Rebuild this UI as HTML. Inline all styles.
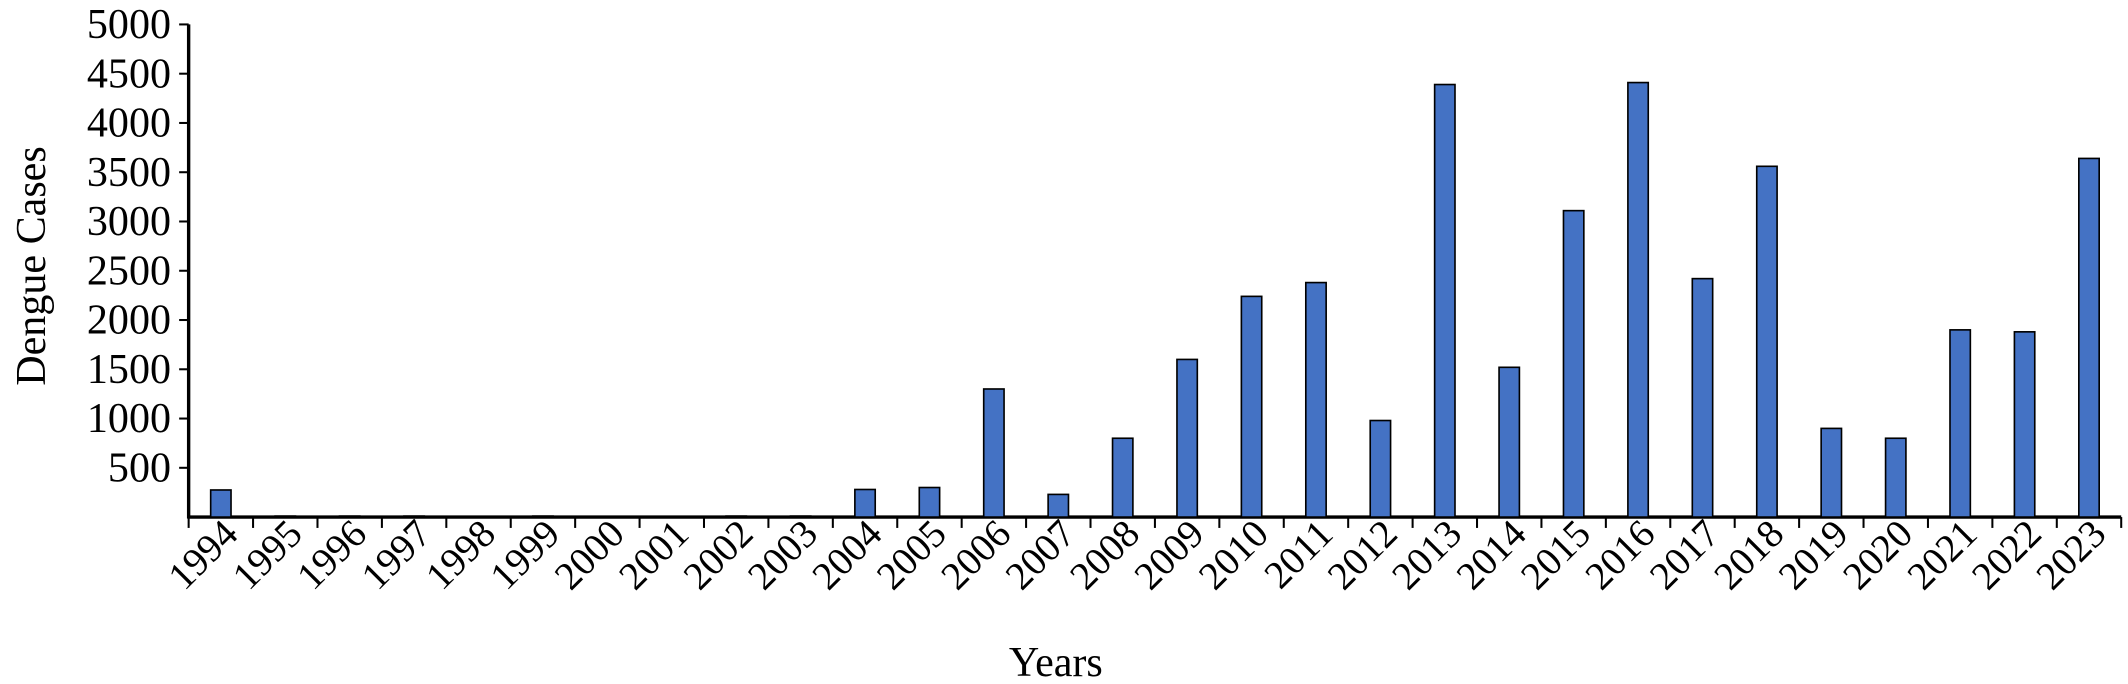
<!DOCTYPE html>
<html><head><meta charset="utf-8"><style>
html,body{margin:0;padding:0;background:#fff;width:2128px;height:684px;overflow:hidden}
svg{display:block}
text{font-family:"Liberation Serif",serif;fill:#000}
</style></head><body>
<svg id="chart" width="2128" height="684" viewBox="0 0 1568 504" xmlns="http://www.w3.org/2000/svg">
<g id="axes"></g><g id="bars"></g>
<text x="0" y="0" font-size="31" text-anchor="middle" transform="translate(33,196) rotate(-90)">Dengue Cases</text>
<text x="778" y="498" font-size="31" text-anchor="middle">Years</text>
</svg>
<script>
const years=["1994","1995","1996","1997","1998","1999","2000","2001","2002","2003","2004","2005","2006","2007","2008","2009","2010","2011","2012","2013","2014","2015","2016","2017","2018","2019","2020","2021","2022","2023"];
const cases=[275,10,10,10,0,10,0,0,10,10,280,300,1300,230,800,1600,2240,2380,980,4390,1520,3110,4410,2420,3560,900,800,1900,1880,3640];
const yTicks=[500,1000,1500,2000,2500,3000,3500,4000,4500,5000];
const NS="http://www.w3.org/2000/svg";
const x0=139,x1=1563,yTop=18,yBase=381,yMax=5000;
const bw=(x1-x0)/years.length;
function y(v){return yBase-(v/yMax)*(yBase-yTop);}
function xc(i){return x0+bw*(i+0.5);}
function mk(t,a,p){const e=document.createElementNS(NS,t);for(const k in a)e.setAttribute(k,a[k]);p.appendChild(e);return e;}
const ax=document.getElementById('axes'),bars=document.getElementById('bars');
let l=mk('line',{x1:x0,y1:yTop,x2:x0,y2:yBase+1,stroke:'#000','stroke-width':2.5},ax);


l=mk('line',{x1:x0-1,y1:yBase,x2:x1,y2:yBase,stroke:'#000','stroke-width':2.5},ax);


yTicks.forEach(v=>{
 let t=mk('line',{x1:x0-7,y1:y(v),x2:x0,y2:y(v),stroke:'#000','stroke-width':1.5},ax);
 
 
 let tx=mk('text',{x:x0-13,y:y(v)+10,'font-size':31,'text-anchor':'end'},ax);
 tx.textContent=v;
 
 
});
for(let i=0;i<=years.length;i++){
 let t=mk('line',{x1:x0+bw*i,y1:yBase,x2:x0+bw*i,y2:yBase+8,stroke:'#000','stroke-width':1.5},ax);
 
 
}
years.forEach((yr,i)=>{
 const v=cases[i],bwid=15;
 if(v>0){
  let r=mk('rect',{x:xc(i)-bwid/2,y:y(v),width:bwid,height:yBase-y(v),fill:'#4472c4',stroke:'#000','stroke-width':1.2},bars);
  
  
 }
 let tx=mk('text',{x:0,y:0,'font-size':29,'text-anchor':'end',transform:'translate('+(xc(i)+14)+','+(yBase+14)+') rotate(-45)'},ax);
 tx.textContent=yr;
 
 
});
</script>
</body></html>
